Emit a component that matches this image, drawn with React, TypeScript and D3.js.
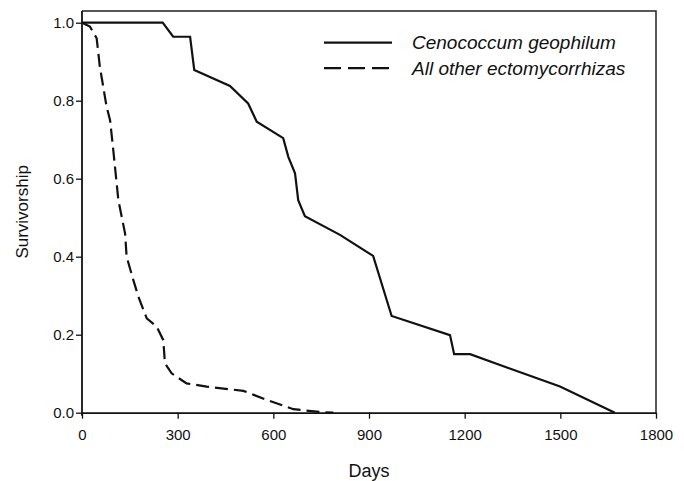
import React, { useEffect, useRef } from 'react';
import * as d3 from 'd3';

const cenoDays = [0, 253, 286, 339, 352, 464, 521, 548, 631, 647, 668, 678, 699, 809, 913, 971, 1154, 1167, 1217, 1499, 1671];
const cenoSurv = [1, 1, 0.964, 0.964, 0.879, 0.838, 0.793, 0.746, 0.704, 0.656, 0.614, 0.545, 0.504, 0.456, 0.402, 0.248, 0.199, 0.15, 0.15, 0.067, 0];

const otherDays = [0, 25, 46, 56, 77, 88, 98, 114, 135, 140, 161, 177, 203, 234, 255, 260, 281, 328, 391, 506, 579, 663, 746, 788];
const otherSurv = [1, 0.99, 0.96, 0.887, 0.785, 0.75, 0.674, 0.545, 0.46, 0.4, 0.34, 0.297, 0.242, 0.221, 0.186, 0.127, 0.101, 0.075, 0.067, 0.056, 0.033, 0.009, 0.002, 0];

const xTicks = [0, 300, 600, 900, 1200, 1500, 1800];
const yTicks = [0, 0.2, 0.4, 0.6, 0.8, 1.0];

const seriesNames = ['Cenococcum geophilum', 'All other ectomycorrhizas'];

export default function App() {
    const svgRef = useRef<SVGSVGElement>(null);

    const width = 684;
    const height = 481;
    const font = 'Liberation Sans, Arial, sans-serif';

    useEffect(() => {
        const svg = d3.select(svgRef.current);
        svg.selectAll('*').remove();

        const xScale = d3.scaleLinear().domain([0, 1800]).range([82, 656]);
        const yScale = d3.scaleLinear().domain([0, 1]).range([412.7, 22.7]);
        const top = yScale(1.03);

        // frame: top and right borders
        svg.append('path')
            .attr('d', `M${xScale(0)},${top}H${xScale(1800)}V${yScale(0)}`)
            .attr('fill', 'none')
            .attr('stroke', '#222')
            .attr('stroke-width', 1.5);

        const xAxis = d3.axisBottom(xScale)
            .tickValues(xTicks)
            .tickSize(6)
            .tickSizeOuter(0)
            .tickFormat(d3.format('d'));

        const xAxisG = svg.append('g')
            .attr('transform', `translate(0, ${yScale(0)})`)
            .call(xAxis);
        xAxisG.select('.domain').attr('stroke', '#111').attr('stroke-width', 1.8);
        xAxisG.selectAll('line').attr('stroke', '#111').attr('stroke-width', 1.3);
        xAxisG.selectAll('text')
            .attr('y', 17)
            .attr('font-family', font)
            .attr('font-size', 15)
            .attr('fill', '#111');

        const yAxis = d3.axisLeft(yScale)
            .tickValues(yTicks)
            .tickSize(6)
            .tickSizeOuter(0)
            .tickFormat(d3.format('.1f'));

        const yAxisG = svg.append('g')
            .attr('transform', `translate(${xScale(0)}, 0)`)
            .call(yAxis);
        yAxisG.select('.domain')
            .attr('d', `M0,${top}V${yScale(0) + 3}`)
            .attr('stroke', '#111')
            .attr('stroke-width', 1.8);
        yAxisG.selectAll('line').attr('stroke', '#111').attr('stroke-width', 1.3);
        yAxisG.selectAll('text')
            .attr('x', -8)
            .attr('font-family', font)
            .attr('font-size', 15)
            .attr('fill', '#111');

        svg.append('text')
            .attr('x', (xScale(0) + xScale(1800)) / 2)
            .attr('y', 477)
            .attr('text-anchor', 'middle')
            .attr('font-family', font)
            .attr('font-size', 18)
            .attr('fill', '#111')
            .text('Days');

        svg.append('text')
            .attr('transform', `translate(28, ${(yScale(0) + top) / 2}) rotate(-90)`)
            .attr('text-anchor', 'middle')
            .attr('font-family', font)
            .attr('font-size', 17)
            .attr('fill', '#111')
            .text('Survivorship');

        const line = d3.line<[number, number]>()
            .x(d => xScale(d[0]))
            .y(d => yScale(d[1]));

        const ceno = cenoDays.map((d, i) => [d, cenoSurv[i]] as [number, number]);
        const other = otherDays.map((d, i) => [d, otherSurv[i]] as [number, number]);

        svg.append('path')
            .datum(other)
            .attr('d', line)
            .attr('fill', 'none')
            .attr('stroke', '#111')
            .attr('stroke-width', 2.2)
            .attr('stroke-dasharray', '13,6');

        svg.append('path')
            .datum(ceno)
            .attr('d', line)
            .attr('fill', 'none')
            .attr('stroke', '#111')
            .attr('stroke-width', 2.2);

        // legend
        const legend = svg.append('g');
        const dashes = [null, '17,7'];
        seriesNames.forEach((name, i) => {
            const ly = 42.7 + i * 25.5;
            legend.append('line')
                .attr('x1', 324)
                .attr('x2', 392)
                .attr('y1', ly)
                .attr('y2', ly)
                .attr('stroke', '#111')
                .attr('stroke-width', 2.2)
                .attr('stroke-dasharray', dashes[i]);
            legend.append('text')
                .attr('x', 412)
                .attr('y', ly + 6.5)
                .attr('font-family', font)
                .attr('font-style', 'italic')
                .attr('font-size', 19)
                .attr('fill', '#111')
                .text(name);
        });
    });

    return (
        <svg ref={svgRef} width={width} height={height}
            style={{ position: 'absolute', left: 0, top: 0, background: '#fff' }}></svg>
    );
}
